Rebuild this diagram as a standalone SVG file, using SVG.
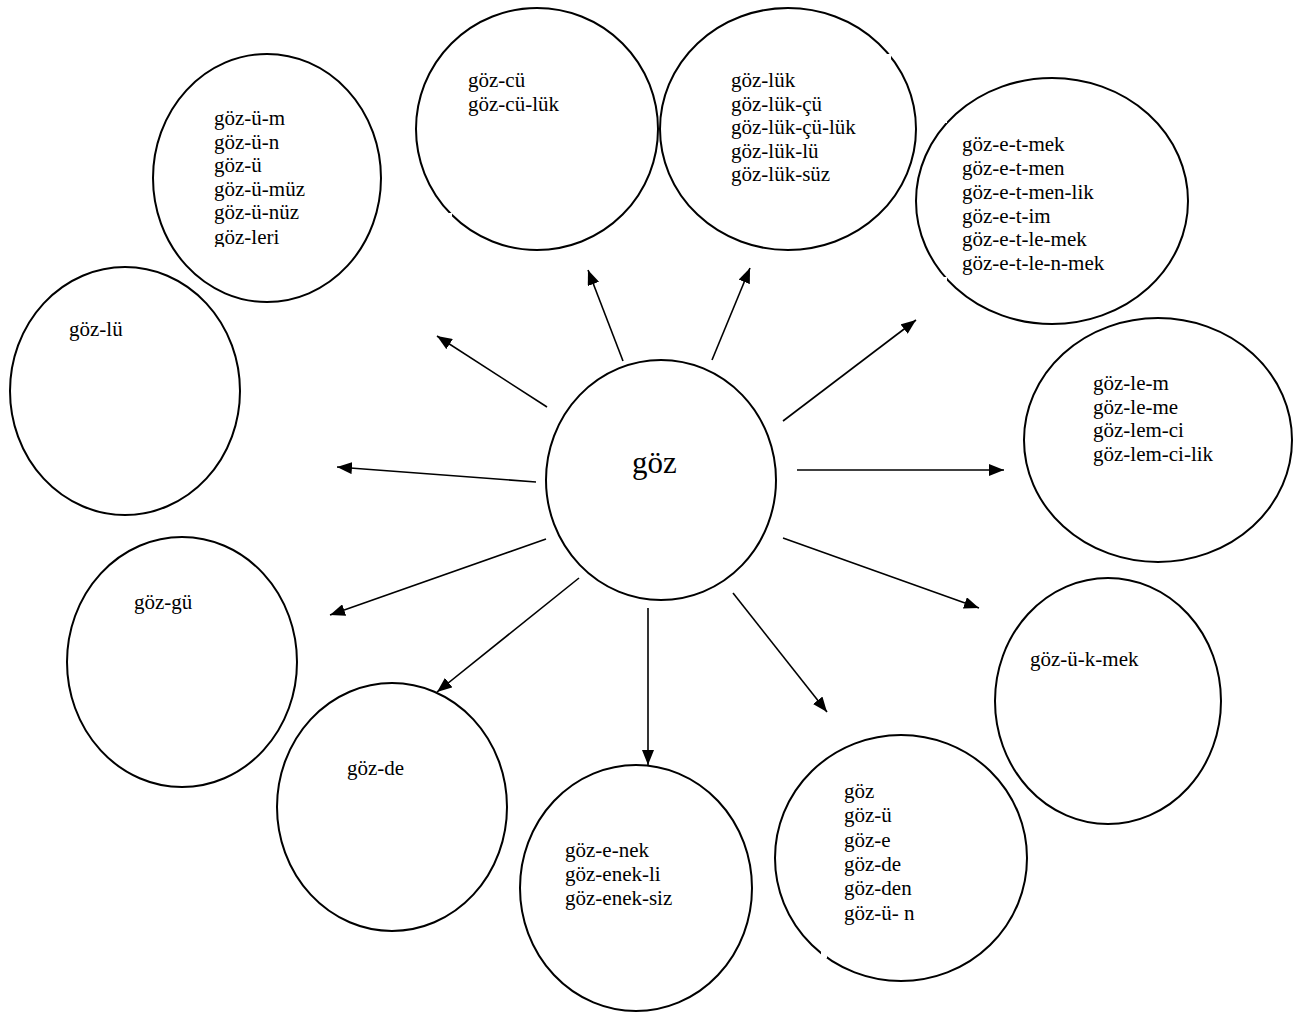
<svg xmlns="http://www.w3.org/2000/svg" width="1299" height="1014" viewBox="0 0 1299 1014">
<style>
.node{fill:none;stroke:#000;stroke-width:2}
.t{font-family:"Liberation Serif","Times New Roman",serif;font-size:21px;fill:#000}
.big{font-size:31px}
.conn line{stroke:#000;stroke-width:1.6;marker-end:url(#ah)}
.gap{fill:#fff;stroke:none}
</style>
<defs>
<marker id="ah" markerUnits="userSpaceOnUse" markerWidth="16" markerHeight="12" refX="15" refY="6" orient="auto">
<path d="M0,0 L15,6 L0,12 Z" fill="#000"/>
</marker>
<clipPath id="c1"><rect x="200" y="220" width="120" height="27"/></clipPath>
<clipPath id="c2"><rect x="950" y="250" width="200" height="25"/></clipPath>
</defs>
<rect width="1299" height="1014" fill="#fff"/>

<g id="center">
<ellipse class="node" cx="661" cy="480" rx="115" ry="120"/>
<text class="t big" x="632" y="473">göz</text>
</g>

<g id="n-gozum">
<ellipse class="node" cx="267" cy="178" rx="114" ry="124"/>
<text class="t" x="214" y="125">göz-ü-m</text>
<text class="t" x="214" y="148.5">göz-ü-n</text>
<text class="t" x="214" y="172">göz-ü</text>
<text class="t" x="214" y="195.5">göz-ü-müz</text>
<text class="t" x="214" y="219">göz-ü-nüz</text>
<text class="t" x="214" y="244" font-size="24" clip-path="url(#c1)">göz-leri</text>
</g>

<g id="n-gozcu">
<ellipse class="node" cx="537" cy="129" rx="121" ry="121"/>
<rect class="gap" x="447" y="213" width="5" height="7"/>
<text class="t" x="468" y="87">göz-cü</text>
<text class="t" x="468" y="110.5">göz-cü-lük</text>
</g>

<g id="n-gozluk">
<ellipse class="node" cx="788" cy="129" rx="128" ry="121"/>
<rect class="gap" x="886" y="54" width="5" height="6"/>
<rect class="gap" x="885" y="212" width="5" height="6"/>
<text class="t" x="731" y="87">göz-lük</text>
<text class="t" x="731" y="110.5">göz-lük-çü</text>
<text class="t" x="731" y="134">göz-lük-çü-lük</text>
<text class="t" x="731" y="157.5">göz-lük-lü</text>
<text class="t" x="731" y="181">göz-lük-süz</text>
</g>

<g id="n-gozetmek">
<ellipse class="node" cx="1052" cy="201" rx="136" ry="123"/>
<rect class="gap" x="941" y="117" width="6" height="6"/>
<rect class="gap" x="940" y="277" width="7" height="10"/>
<text class="t" x="962" y="151">göz-e-t-mek</text>
<text class="t" x="962" y="175">göz-e-t-men</text>
<text class="t" x="962" y="198.5">göz-e-t-men-lik</text>
<text class="t" x="962" y="222.5">göz-e-t-im</text>
<text class="t" x="962" y="246">göz-e-t-le-mek</text>
<text class="t" x="962" y="270" clip-path="url(#c2)">göz-e-t-le-n-mek</text>
</g>

<g id="n-gozlem">
<ellipse class="node" cx="1158" cy="440" rx="134" ry="122"/>
<text class="t" x="1093" y="390">göz-le-m</text>
<text class="t" x="1093" y="413.5">göz-le-me</text>
<text class="t" x="1093" y="437">göz-lem-ci</text>
<text class="t" x="1093" y="460.5">göz-lem-ci-lik</text>
</g>

<g id="n-gozukmek">
<ellipse class="node" cx="1108" cy="701" rx="113" ry="123"/>
<text class="t" x="1030" y="666">göz-ü-k-mek</text>
</g>

<g id="n-gozcase">
<ellipse class="node" cx="901" cy="858" rx="126" ry="123"/>
<rect class="gap" x="821" y="951" width="6" height="7"/>
<text class="t" x="844" y="798">göz</text>
<text class="t" x="844" y="822">göz-ü</text>
<text class="t" x="844" y="847">göz-e</text>
<text class="t" x="844" y="870.5">göz-de</text>
<text class="t" x="844" y="895">göz-den</text>
<text class="t" x="844" y="920">göz-ü- n</text>
</g>

<g id="n-gozenek">
<ellipse class="node" cx="636" cy="888" rx="116" ry="123"/>
<text class="t" x="565" y="857">göz-e-nek</text>
<text class="t" x="565" y="880.5">göz-enek-li</text>
<text class="t" x="565" y="905">göz-enek-siz</text>
</g>

<g id="n-gozde">
<ellipse class="node" cx="392" cy="807" rx="115" ry="124"/>
<text class="t" x="347" y="775">göz-de</text>
</g>

<g id="n-gozgu">
<ellipse class="node" cx="182" cy="662" rx="115" ry="125"/>
<text class="t" x="134" y="609">göz-gü</text>
</g>

<g id="n-gozlu">
<ellipse class="node" cx="125" cy="391" rx="115" ry="124"/>
<text class="t" x="69" y="336">göz-lü</text>
</g>

<g id="connectors" class="conn">
<line x1="547" y1="407" x2="437" y2="336"/>
<line x1="623" y1="361" x2="588" y2="270"/>
<line x1="712" y1="360" x2="750" y2="268"/>
<line x1="783" y1="421" x2="916" y2="320"/>
<line x1="797" y1="470" x2="1004" y2="470"/>
<line x1="783" y1="538" x2="979" y2="608"/>
<line x1="733" y1="593" x2="827" y2="712"/>
<line x1="648" y1="608" x2="648" y2="765"/>
<line x1="579" y1="578" x2="437" y2="692"/>
<line x1="546" y1="539" x2="330" y2="615"/>
<line x1="536" y1="482" x2="337" y2="467"/>
</g>
</svg>
